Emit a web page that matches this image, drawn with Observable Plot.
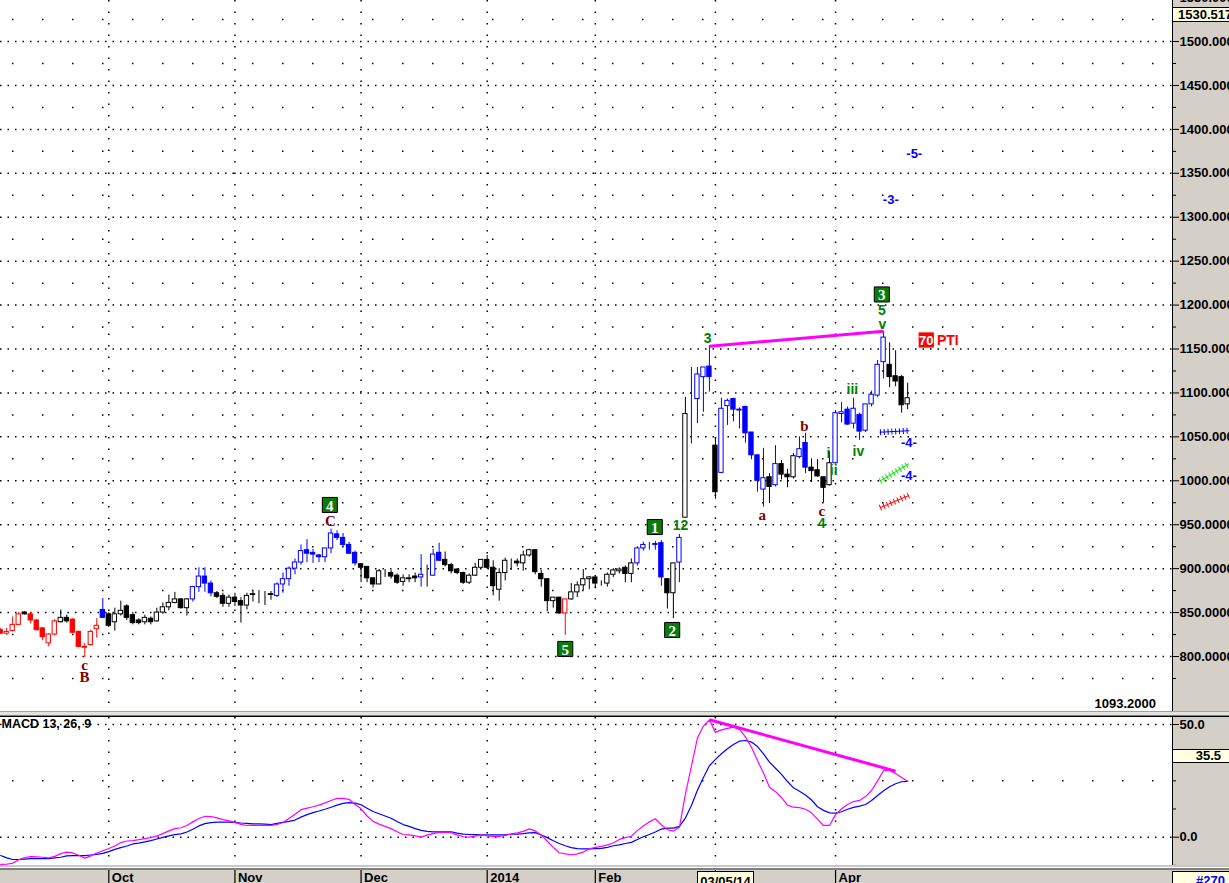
<!DOCTYPE html>
<html><head><meta charset="utf-8">
<script src="https://cdn.jsdelivr.net/npm/d3@7"></script>
<script src="https://cdn.jsdelivr.net/npm/@observablehq/plot@0.6"></script>
<style>
body{margin:0;background:#fff;width:1229px;height:883px;overflow:hidden;position:relative;font-family:"Liberation Sans",Arial,sans-serif;}
.abs{position:absolute;}
.ybox{position:absolute;background:#ffffe1;box-sizing:border-box;border:1px solid #000;font-weight:bold;font-size:13px;line-height:12px;overflow:hidden;white-space:nowrap;}
</style></head><body>
<div class="abs" style="left:1172px;top:0;width:57px;height:711px;background:#d4d0c8;border-left:1px solid #000;box-sizing:border-box"></div>
<div class="abs" style="left:1172px;top:717px;width:57px;height:148px;background:#d4d0c8;border-left:1px solid #000;box-sizing:border-box"></div>
<div class="abs" style="left:0;top:711px;width:1229px;height:1px;background:#a0a0a0"></div>
<div class="abs" style="left:0;top:712px;width:1229px;height:3px;background:#e4e2dc"></div>
<div class="abs" style="left:0;top:715px;width:1229px;height:1px;background:#808080"></div>
<div class="abs" style="left:0;top:716px;width:1229px;height:1px;background:#000"></div>
<div class="abs" style="left:0;top:865px;width:1229px;height:2px;background:#c8c8c8"></div>
<div class="abs" style="left:0;top:868px;width:1229px;height:2px;background:#808080"></div>
<div class="abs" style="left:0;top:870px;width:1229px;height:13px;background:#d4d0c8"></div>
<div id="main" class="abs" style="left:0;top:0"></div>
<div id="macd" class="abs" style="left:0;top:717px"></div>
<div id="xaxis" class="abs" style="left:0;top:870px"></div>
<div class="abs" style="left:1060px;top:696px;width:96px;text-align:right;font-weight:bold;font-size:13px">1093.2000</div>
<div class="ybox" style="left:1172px;top:7px;width:57px;height:15px;padding-left:5px;line-height:13px;border-right:none">1530.517</div>
<div class="ybox" style="left:1172px;top:749px;width:57px;height:14px;padding-right:8px;text-align:right;border-right:none">35.5</div>
<div class="ybox" style="left:697px;top:871px;width:57px;height:14px;text-align:center;padding-top:4px">03/05/14</div>
<div class="ybox" style="left:1172px;top:871px;width:57px;height:14px;text-align:right;padding-right:4px;padding-top:3px;color:#0000ff;border-right:none">#270</div>
<script>
// ---------- data ----------
const monthLabels = ["Oct","Nov","Dec","2014","Feb","Mar","Apr"];
const monthStart  = [18, 39, 60, 81, 99, 119, 139];   // candle index of first session

const open = [
 830,826,829,836,850,848,841,832,815,825,
 839,844,842,828,811,813,831,853,848,839,
 848,857,847,841,839,843,840,850,856,861,
 865,855,865,879,891,883,872,869,860,867,
 863,858,870,871,871,870,869,882,888,900,
 907,921,918,915,913,923,939,935,927,918,
 905,902,889,882,897,895,892,885,888,891,
 890,893,892,918,910,904,899,895,884,892,
 901,910,901,876,895,909,908,906,915,921,
 894,888,863,867,849,865,873,881,888,890,
 884,883,893,897,901,894,906,923,927,927,
 929,888,872,907,958,1093,1093,1118,1130,1040,
 1009,1085,1093,1081,1084,1055,1029,990,1004,995,
 1019,1007,1004,1027,1043,1015,1012,1004,995,1020,
 1076,1081,1065,1075,1057,1087,1097,1135,1132,1119,
 1118,1087];
const high = [
 832,832,845,850,851,850,842,833,826,842,
 853,847,843,829,815,830,843,866,850,855,
 863,859,850,843,847,845,855,861,870,873,
 866,866,880,901,901,886,874,872,870,872,
 867,872,874,875,874,874,884,895,902,911,
 927,933,922,916,923,945,943,940,930,920,
 905,902,889,899,899,898,894,893,893,895,
 916,904,922,929,919,906,900,896,894,906,
 910,915,909,900,912,911,911,920,922,921,
 898,888,867,867,865,883,885,899,891,890,
 886,895,900,901,903,911,925,930,930,931,
 932,888,906,939,1095,1129,1129,1129,1154,1049,
 1094,1093,1094,1083,1085,1055,1029,1037,1008,1040,
 1023,1013,1031,1050,1054,1025,1024,1004,1033,1080,
 1089,1084,1094,1077,1087,1102,1137,1170,1157,1148,
 1120,1111];
const low = [
 825,824,828,835,847,837,829,818,811,823,
 838,838,826,810,799,812,821,843,833,829,
 846,841,836,836,836,836,839,848,852,860,
 854,846,862,873,873,868,866,856,856,857,
 838,853,862,860,858,864,867,872,880,893,
 904,907,906,907,907,917,932,924,916,903,
 884,884,878,882,890,888,882,880,884,884,
 879,879,891,908,902,894,893,882,882,891,
 900,899,869,863,886,898,902,897,913,893,
 879,851,855,848,824,864,867,875,876,877,
 880,879,890,894,884,884,903,920,921,921,
 880,854,843,884,958,1042,1065,1078,1101,979,
 1008,1063,1067,1059,1043,1024,987,970,974,993,
 1001,992,1002,1025,1008,998,1004,975,994,1019,
 1066,1063,1059,1046,1055,1084,1095,1116,1106,1107,
 1077,1081];
const close = [
 826,828,836,848,848,841,830,822,825,840,
 844,840,827,811,810,828,835,844,835,848,
 852,844,838,838,844,839,850,856,861,865,
 855,865,879,891,883,872,868,860,867,862,
 858,869,871,871,871,871,882,888,900,907,
 920,917,916,913,923,940,935,927,917,906,
 901,889,882,897,897,891,884,889,889,889,
 893,893,916,909,904,897,895,884,892,901,
 910,901,880,895,909,909,906,915,921,896,
 888,863,867,849,865,873,881,888,890,883,
 884,893,898,899,894,906,923,927,927,928,
 890,872,906,935,1076,1093,1121,1129,1118,987,
 1082,1091,1081,1080,1054,1029,1000,1003,993,1019,
 1007,1004,1028,1036,1015,1011,1005,992,1020,1077,
 1078,1064,1082,1056,1087,1098,1132,1163,1118,1113,
 1086,1094];
// candle colour runs: r = red, k = black, b = blue
const colorRuns = [["r",4],["k",1],["r",5],["k",2],["r",5],["b",1],["k",14],["b",4],["k",10],["b",14],
 ["k",10],["b",1],["k",1],["b",2],["k",20],["r",1],["k",11],["b",5],["k",2],["b",1],["k",1],["b",4],
 ["k",1],["b",8],["k",1],["b",1],["k",3],["b",2],["k",4],["b",9],["k",4]];

const macd = [
 -12.1,-12.0,-11.5,-10,-9,-8.6,-8.7,-8.9,-9.2,-8.5,
 -7.3,-6.6,-7,-8,-9.3,-8.3,-7,-6,-5,-3.9,
 -2.4,-1.7,-1.5,-1.1,-0.6,-0.2,0.5,1.6,2.8,3.8,
 4.2,5.2,6.8,8.3,9.3,9.1,8.6,7.8,7.2,6.6,
 5.7,5.2,5.2,5.2,5.2,5.2,5.7,6.5,8.3,10.2,
 12.2,12.9,13.5,14.2,15.2,16.3,17.2,17.2,16.8,14.5,
 12.6,9.4,7.0,5.8,4.8,3.8,2.4,1.2,1.0,0.6,
 0,0.9,1.6,2.1,2.2,2.0,1.0,0.2,0,0.5,
 1.0,0.6,0.4,0.4,0.8,1.5,1.9,2.6,3.7,2.8,
 1.0,-1.8,-4.5,-6.9,-7.4,-7.8,-7.4,-6.6,-5.2,-4.5,
 -4.1,-3.4,-2.6,-1.0,-0.2,0.4,2.9,5.0,6.8,8.2,
 5.5,3.3,2.7,4.4,19,31.5,44,49.3,52,46.5,
 47.6,48.3,48.8,47.8,44.5,39.9,34,28.5,22.2,20.2,
 17.5,14.2,13.3,13.1,12.4,10.8,8,5.2,5.2,10,
 12.6,14.5,15.8,16.3,18,20.7,25,29.6,29.6,28.3,
 26.5,24.8];
const signal = [
 -8.1,-9.2,-9.9,-9.9,-9.7,-9.5,-9.5,-9.5,-9.5,-9.2,
 -8.9,-8.3,-8.2,-8.2,-8.2,-7.9,-7.6,-7.2,-6.4,-5.4,
 -4.6,-3.9,-3.0,-2.6,-2.1,-1.5,-0.8,-0.1,0.6,1.1,
 1.5,2.3,3.5,5.0,6.0,6.5,6.7,6.7,6.7,6.6,
 6.3,6.1,5.9,5.9,5.8,5.6,6.1,6.6,7.0,7.6,
 8.9,10.0,10.9,11.6,12.4,13.3,14.2,15.0,15.3,15.1,
 14.4,12.8,11.4,10.4,9.4,8.4,7.0,5.6,4.8,3.8,
 3.0,2.6,2.4,2.4,2.4,2.4,1.8,1.4,1.2,1.1,
 1.0,1.0,1.0,1.0,1.1,1.3,1.4,1.6,1.9,2.0,
 1.0,-0.2,-1.6,-2.8,-3.8,-4.6,-5.1,-5.2,-5.2,-5.1,
 -5.0,-4.5,-3.8,-3.4,-2.8,-2.3,-1.0,0.2,1.2,2.3,
 3.6,4.0,4.0,4.8,8.5,14.1,20.8,26.5,31.7,34.5,
 37.0,39.2,41.1,42.6,42.9,42.2,40.2,37.0,33.3,30.6,
 27.9,24.7,21.9,20.4,18.7,16.5,13.5,11.9,10.8,10.7,
 11.3,12.4,13.2,13.8,14.5,16.3,18.5,20.6,22.4,23.7,
 24.6,24.8];

// trend lines (candle index, value)
const trendPriceIdx = [118, 147], trendPriceVal = [1153.2, 1170.3];
const trendMacdIdx  = [118, 149], trendMacdVal  = [52.1, 29.3];

// projection lines (x-marked)
const projIdx = [146.4, 151.2];
const projBlue  = [1055.3, 1057];
const projGreen = [999.6, 1019.4];
const projRed   = [969.3, 983.3];

// wave labels
const serifText  = ["c","B","C","a","b","c"];
const serifIdx   = [13.95,13.95,54.9,126.8,133.8,136.7];
const serifPrice = [789.8,776.1,953.7,960.5,1061.8,965.1];
const greenText  = ["12","3","4","i","ii","iii","iv","5","v"];
const greenIdx   = [113.2,117.7,136.7,137.8,138.7,141.8,142.8,146.7,146.8];
const greenPrice = [949.1,1162,951.4,1031.1,1011.7,1103.9,1033.4,1193.9,1177.9];
const blueText   = ["-5-","-3-","-4-","-4-"];
const blueIdx    = [152.1,148.2,151.2,151.2];
const bluePrice  = [1372.6,1320.2,1043.6,1006];
const boxText    = ["4","5","1","2","3"];
const boxIdx     = [54.8,94.0,108.9,111.8,146.7];
const boxPrice   = [972.5,808.6,947.4,830.2,1212.1];
const ptiBox = {text:"70", i:154.1, p:1160.3};
const ptiLabel = {text:"PTI", i:157.7, p:1160.3};

const priceTicks = [800,850,900,950,1000,1050,1100,1150,1200,1250,1300,1350,1400,1450,1500,1550];
const priceMinor = [775,825,875,925,975,1025,1075,1125,1175,1225,1275,1325,1375,1425,1475,1525];
const macdTicks = [0, 50];
const macdGridMinor = [25];
const macdMinor = [-12.5, 12.5, 25, 37.5];

// ---------- build ----------
const colorCode = {r:"#ff0000", k:"#000000", b:"#0000ff"};
const colorOf = colorRuns.flatMap(([c,n]) => Array(n).fill(c));
const candles = open.map((o,i) => ({i, o, h:high[i], l:low[i], c:close[i], col:colorCode[colorOf[i]], up: close[i] >= o}));
const xDomain = [-0.033, 195.1];
const FONT = "'Liberation Sans', Arial, sans-serif";
const SERIF = "'Liberation Serif', 'Times New Roman', serif";
const dense  = {stroke:"#000", strokeWidth:1.5, strokeDasharray:"1.5,6"};
const sparse = {stroke:"#000", strokeWidth:1.5, strokeDasharray:"1.5,28.5", strokeDashoffset:-12};
const vdots  = {stroke:"#000", strokeWidth:1.5, strokeDasharray:"1.5,10"};
const zipRows = (a,b) => a.map((v,k)=>({i:v, v:b[k]}));
const lab = (t,x,y) => t.map((s,k)=>({t:s, i:x[k], p:y[k]}));
const priceFmt = v => v >= 1000 ? v.toFixed(3) : v.toFixed(4);

const mainPlot = Plot.plot({
  width:1229, height:711, marginLeft:0, marginRight:57, marginTop:0, marginBottom:0,
  x:{domain:xDomain, axis:null},
  y:{domain:[737.4, 1546.7], axis:null},
  color:{type:"identity"},
  style:{background:"none", fontFamily:FONT, color:"#000"},
  marks:[
    Plot.ruleY(priceTicks, dense),
    Plot.ruleY(priceMinor, sparse),
    Plot.ruleX(monthStart, vdots),
    Plot.ruleX(candles, {x:"i", y1:"l", y2:"h", stroke:"col", strokeWidth:1}),
    Plot.rect(candles, {x1:d=>d.i-0.36, x2:d=>d.i+0.36, y1:"o", y2:"c", fill:d=>d.up?"#ffffff":d.col, stroke:"col", strokeWidth:1}),
    Plot.line(zipRows(trendPriceIdx, trendPriceVal), {x:"i", y:"v", stroke:"#ff00ff", strokeWidth:3, strokeLinecap:"butt"}),
    ...[[projBlue,"#0000ff"],[projGreen,"#00ee00"],[projRed,"#ff0000"]].flatMap(([vals,c]) => [
      Plot.line(zipRows(projIdx, vals), {x:"i", y:"v", stroke:c, strokeWidth:1}),
      Plot.line(zipRows(projIdx, vals), {x:"i", y:"v", stroke:c, strokeWidth:6, strokeLinecap:"butt", strokeDasharray:"1,2.8"})
    ]),
    Plot.text(lab(serifText, serifIdx, serifPrice), {x:"i", y:"p", text:"t", fill:"#800000", fontFamily:SERIF, fontWeight:"bold", fontSize:15}),
    Plot.text(lab(greenText, greenIdx, greenPrice), {x:"i", y:"p", text:"t", fill:"#008000", fontFamily:FONT, fontWeight:"bold", fontSize:14}),
    Plot.text(lab(blueText, blueIdx, bluePrice), {x:"i", y:"p", text:"t", fill:"#0000ff", fontFamily:FONT, fontWeight:"bold", fontSize:13}),
    Plot.dot(lab(boxText, boxIdx, boxPrice), {x:"i", y:"p", symbol:"square", r:8.5, fill:"#0a7a0a", stroke:"#000", strokeWidth:1}),
    Plot.text(lab(boxText, boxIdx, boxPrice), {x:"i", y:"p", text:"t", fill:"#fff", fontFamily:SERIF, fontWeight:"bold", fontSize:15, dy:1}),
    Plot.dot([ptiBox], {x:"i", y:"p", symbol:"square", r:8.6, fill:"#ff0000"}),
    Plot.text([ptiBox], {x:"i", y:"p", text:"text", fill:"#fff", fontFamily:FONT, fontWeight:"bold", fontSize:13, dy:1}),
    Plot.text([ptiLabel], {x:"i", y:"p", text:"text", fill:"#ff0000", fontFamily:FONT, fontWeight:"bold", fontSize:14, dy:1}),
    Plot.axisY(priceTicks, {anchor:"right", tickSize:6, tickPadding:1, tickFormat:priceFmt, fontSize:13, fontWeight:"bold", fontFamily:FONT, label:null}),
    Plot.axisY(priceMinor, {anchor:"right", tickSize:3, tickFormat:()=>"", label:null})
  ]
});
document.getElementById("main").append(mainPlot);

const macdRows = macd.map((m,i)=>({i, m, s:signal[i]}));
const macdPlot = Plot.plot({
  width:1229, height:148, marginLeft:0, marginRight:57, marginTop:0, marginBottom:0,
  x:{domain:xDomain, axis:null},
  y:{domain:[-12.56, 53.1], axis:null},
  style:{background:"none", fontFamily:FONT, color:"#000"},
  marks:[
    Plot.ruleY(macdTicks, dense),
    Plot.ruleY(macdGridMinor, sparse),
    Plot.ruleX(monthStart, vdots),
    Plot.line(macdRows, {x:"i", y:"s", stroke:"#0000ff", strokeWidth:1.2}),
    Plot.line(macdRows, {x:"i", y:"m", stroke:"#ff00ff", strokeWidth:1.2}),
    Plot.line(zipRows(trendMacdIdx, trendMacdVal), {x:"i", y:"v", stroke:"#ff00ff", strokeWidth:3, strokeLinecap:"butt"}),
    Plot.axisY(macdTicks, {anchor:"right", tickSize:6, tickPadding:1, tickFormat:d3.format(".1f"), fontSize:13, fontWeight:"bold", fontFamily:FONT, label:null}),
    Plot.axisY(macdMinor, {anchor:"right", tickSize:3, tickFormat:()=>"", label:null}),
    Plot.text(["MACD 13, 26, 9"], {frameAnchor:"top-left", lineAnchor:"top", dx:1, dy:2, fontSize:12.5, fontWeight:"bold", fontFamily:FONT, fill:"#000"})
  ]
});
document.getElementById("macd").append(macdPlot);

const axisPlot = Plot.plot({
  width:1229, height:13, marginLeft:0, marginRight:57, marginTop:0, marginBottom:0,
  x:{domain:xDomain, axis:null},
  y:{domain:[0,1], axis:null},
  style:{background:"none", fontFamily:FONT, color:"#000"},
  marks:[
    Plot.ruleX(monthStart, {stroke:"#000", strokeWidth:1.2}),
    Plot.text(monthLabels, {x:(d,k)=>monthStart[k], text:d=>d, frameAnchor:"top", lineAnchor:"top", textAnchor:"start", dx:3, dy:2, fontSize:13, fontWeight:"bold", fill:"#000"})
  ]
});
document.getElementById("xaxis").append(axisPlot);
</script>
</body></html>
